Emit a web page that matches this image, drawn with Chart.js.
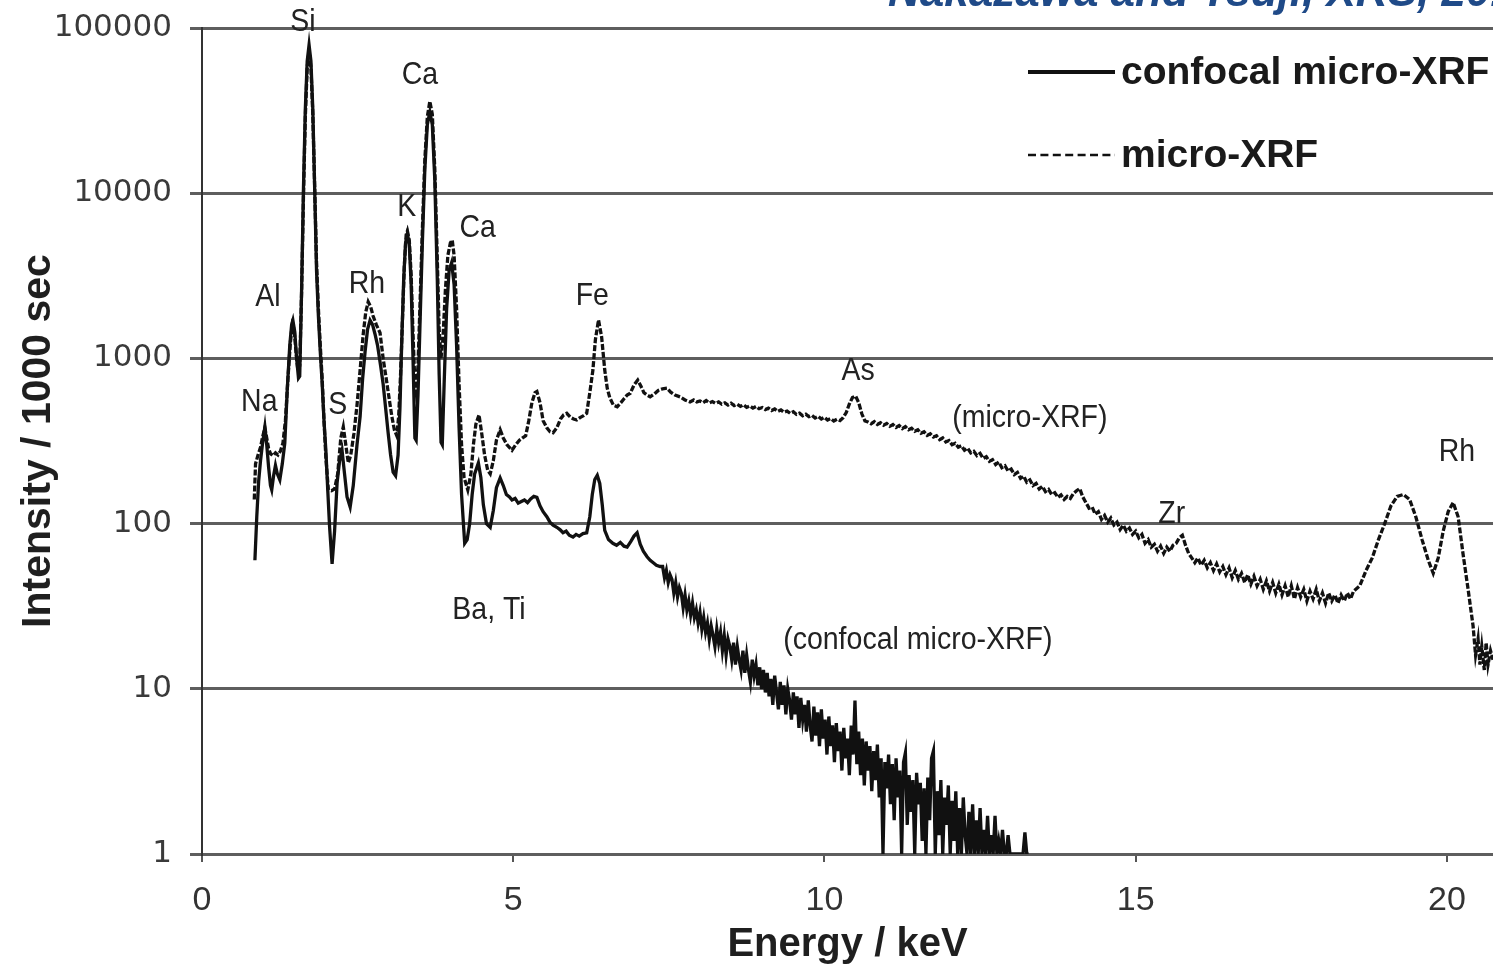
<!DOCTYPE html>
<html>
<head>
<meta charset="utf-8">
<title>confocal micro-XRF vs micro-XRF</title>
<script src="https://cdn.jsdelivr.net/npm/chart.js"></script>
<style>
  html, body { margin: 0; padding: 0; background: #fff; }
  canvas { display: block; }
</style>
</head>
<body>
<canvas id="spectrum" width="1493" height="967"></canvas>
<script>
// spectra as [energy keV, intensity counts / 1000 sec]
const confocalPoints = [
  [0.85, 60], [0.88, 110], [0.91, 180], [0.94, 240], [0.97, 300], [1.01, 385], [1.04, 300], [1.07, 220], [1.10, 170], [1.12, 160],
  [1.15, 195], [1.18, 225], [1.21, 200], [1.25, 184], [1.29, 230], [1.33, 307], [1.37, 650], [1.41, 1200], [1.44, 1600], [1.46, 1700],
  [1.49, 1450], [1.52, 1000], [1.55, 760], [1.57, 780], [1.60, 2600], [1.63, 10700], [1.66, 32400], [1.69, 63000], [1.72, 79000], [1.75, 63000],
  [1.78, 32400], [1.81, 10700], [1.84, 3400], [1.87, 1800], [1.90, 1100], [1.93, 710], [1.96, 420], [1.99, 277], [2.02, 160], [2.05, 95],
  [2.09, 57], [2.13, 90], [2.17, 176], [2.21, 240], [2.25, 277], [2.29, 200], [2.33, 145], [2.38, 126], [2.43, 170], [2.49, 300],
  [2.54, 445], [2.58, 750], [2.62, 1100], [2.66, 1500], [2.70, 1700], [2.74, 1600], [2.78, 1400], [2.82, 1200], [2.87, 900], [2.91, 700],
  [2.95, 500], [2.99, 355], [3.03, 260], [3.07, 205], [3.11, 195], [3.15, 260], [3.18, 500], [3.21, 1300], [3.24, 3000], [3.27, 5000],
  [3.30, 5700], [3.33, 4900], [3.36, 2800], [3.39, 1000], [3.42, 330], [3.44, 320], [3.47, 600], [3.50, 1500], [3.54, 5000], [3.58, 14000],
  [3.62, 26000], [3.66, 31000], [3.70, 26000], [3.74, 12000], [3.78, 3000], [3.81, 800], [3.84, 310], [3.86, 300], [3.89, 700], [3.93, 2000],
  [3.97, 3400], [4.01, 3800], [4.05, 2800], [4.09, 1200], [4.13, 380], [4.17, 150], [4.22, 76], [4.26, 80], [4.30, 100], [4.34, 150],
  [4.38, 200], [4.44, 233], [4.48, 190], [4.52, 130], [4.57, 100], [4.63, 95], [4.68, 120], [4.73, 165], [4.79, 189], [4.84, 170],
  [4.89, 150], [4.94, 145], [4.98, 139], [5.03, 142], [5.08, 133], [5.13, 136], [5.18, 139], [5.23, 134], [5.28, 141], [5.33, 146],
  [5.38, 144], [5.43, 128], [5.48, 118], [5.54, 110], [5.59, 102], [5.64, 98], [5.70, 95], [5.75, 92], [5.80, 88], [5.85, 90],
  [5.90, 85], [5.96, 83], [6.01, 86], [6.06, 84], [6.12, 87], [6.18, 88], [6.23, 110], [6.27, 150], [6.31, 185], [6.35, 196],
  [6.39, 175], [6.43, 130], [6.47, 91], [6.53, 80], [6.60, 76], [6.66, 74], [6.72, 77], [6.78, 73], [6.83, 72], [6.89, 78],
  [6.94, 84], [6.99, 88], [7.04, 75], [7.09, 68], [7.15, 63], [7.20, 60], [7.25, 58], [7.30, 56], [7.36, 55],
  // noisy high-energy tail
  [7.40, 55], [7.43, 47], [7.46, 52], [7.49, 44], [7.52, 49], [7.55, 46], [7.58, 38], [7.61, 44], [7.64, 36], [7.67, 41],
  [7.70, 38], [7.73, 31], [7.76, 37], [7.79, 30], [7.82, 34], [7.85, 28], [7.88, 33], [7.91, 27], [7.94, 30], [7.97, 25],
  [8.00, 29], [8.03, 23], [8.06, 27], [8.09, 22], [8.12, 25], [8.15, 20], [8.18, 24], [8.21, 21], [8.24, 18], [8.27, 23],
  [8.30, 19], [8.33, 22], [8.36, 17], [8.39, 21], [8.42, 16], [8.45, 20], [8.48, 18], [8.51, 15], [8.54, 19], [8.57, 14],
  [8.60, 18], [8.63, 15], [8.66, 13], [8.69, 17], [8.72, 12.5], [8.75, 16], [8.78, 13], [8.81, 11], [8.84, 15], [8.87, 12],
  [8.90, 14], [8.93, 10.5], [8.96, 13.5], [8.99, 10], [9.02, 13], [9.05, 9.5], [9.08, 12.5], [9.11, 9], [9.14, 11.5], [9.17, 8],
  [9.20, 12], [9.23, 9.5], [9.26, 7.5], [9.29, 11], [9.32, 8], [9.35, 10.5], [9.38, 7], [9.41, 10], [9.44, 8.5], [9.47, 6.5],
  [9.50, 9.5], [9.53, 7], [9.56, 9], [9.59, 5.8], [9.62, 8.8], [9.65, 6.5], [9.68, 8], [9.71, 5.5], [9.74, 8.5], [9.77, 6],
  [9.80, 4.8], [9.83, 7.8], [9.86, 5.2], [9.89, 7.2], [9.92, 4.5], [9.95, 7.5], [9.98, 5], [10.01, 6.5], [10.04, 4], [10.07, 6.8],
  [10.10, 4.5], [10.13, 6], [10.16, 3.6], [10.19, 6.2], [10.22, 4.2], [10.25, 5.5], [10.28, 3.2], [10.31, 5.8], [10.34, 3.8], [10.37, 5],
  [10.40, 3], [10.43, 6], [10.46, 4], [10.49, 8.5], [10.52, 3.5], [10.55, 5.5], [10.58, 3], [10.61, 5], [10.64, 2.6], [10.67, 4.8],
  [10.70, 3.2], [10.73, 4.5], [10.76, 2.4], [10.79, 4.2], [10.82, 2.8], [10.85, 4.6], [10.88, 2.2], [10.91, 3.8], [10.94, 1], [10.97, 3.6],
  [11.00, 2.5], [11.03, 4], [11.06, 2], [11.09, 3.5], [11.12, 1.6], [11.15, 3.8], [11.18, 2.2], [11.21, 3.2], [11.24, 1], [11.27, 3.6],
  [11.30, 4.1], [11.33, 1.5], [11.36, 3], [11.39, 1.8], [11.42, 2.8], [11.45, 1], [11.48, 3.1], [11.51, 2], [11.54, 2.7], [11.57, 1.2],
  [11.60, 2.5], [11.63, 1], [11.66, 2.9], [11.69, 1.6], [11.72, 3.8], [11.75, 4.2], [11.78, 1], [11.81, 2.4], [11.84, 1.3], [11.87, 2.8],
  [11.90, 1], [11.93, 2.2], [11.96, 1.5], [11.99, 2.6], [12.02, 1], [12.05, 2.1], [12.08, 1.2], [12.11, 2.4], [12.14, 1], [12.17, 1.9],
  [12.20, 1], [12.23, 2.2], [12.26, 1.3], [12.29, 1], [12.32, 1.8], [12.35, 1], [12.38, 2], [12.41, 1], [12.44, 1.6], [12.47, 1],
  [12.50, 1.9], [12.53, 1], [12.56, 1.4], [12.59, 1], [12.62, 1.7], [12.65, 1], [12.68, 1.3], [12.71, 1], [12.74, 1.7], [12.77, 1],
  [12.80, 1.2], [12.83, 1], [12.86, 1.4], [12.89, 1], [12.92, 1], [12.95, 1.3], [12.98, 1], [13.01, 1], [13.04, 1], [13.07, 1],
  [13.10, 1], [13.13, 1], [13.16, 1], [13.19, 1], [13.22, 1.35], [13.25, 1], [13.28, 1]
];

const microPoints = [
  [0.84, 140], [0.86, 230], [0.90, 260], [0.94, 290], [0.97, 330], [1.01, 380], [1.04, 330], [1.07, 285], [1.10, 265], [1.14, 258],
  [1.18, 268], [1.22, 260], [1.26, 275], [1.30, 307], [1.34, 420], [1.38, 750], [1.42, 1250], [1.45, 1600], [1.48, 1500], [1.51, 1100],
  [1.54, 850], [1.57, 900], [1.60, 2500], [1.63, 9500], [1.66, 29000], [1.69, 58000], [1.72, 72000], [1.75, 58000], [1.78, 30000], [1.81, 11000],
  [1.84, 3800], [1.87, 2000], [1.90, 1200], [1.93, 760], [1.96, 420], [1.99, 250], [2.03, 160], [2.08, 158], [2.13, 162], [2.18, 200],
  [2.23, 330], [2.27, 385], [2.31, 300], [2.35, 233], [2.39, 260], [2.44, 350], [2.49, 520], [2.54, 850], [2.59, 1400], [2.63, 1900],
  [2.67, 2200], [2.71, 2050], [2.75, 1800], [2.80, 1600], [2.86, 1430], [2.91, 1000], [2.97, 710], [3.01, 560], [3.05, 445], [3.09, 370],
  [3.13, 340], [3.16, 450], [3.19, 800], [3.22, 1700], [3.25, 3600], [3.28, 5600], [3.30, 5900], [3.33, 5200], [3.36, 3200], [3.39, 1400],
  [3.42, 700], [3.44, 620], [3.47, 900], [3.50, 2000], [3.54, 6000], [3.58, 16000], [3.62, 29000], [3.66, 36000], [3.70, 30000], [3.74, 14000],
  [3.78, 4000], [3.81, 1500], [3.84, 1000], [3.87, 1300], [3.91, 2600], [3.95, 4200], [3.99, 5000], [4.02, 5200], [4.05, 4200], [4.09, 2000],
  [4.13, 700], [4.17, 300], [4.21, 190], [4.27, 160], [4.32, 200], [4.36, 300], [4.40, 400], [4.45, 455], [4.49, 360], [4.54, 260],
  [4.59, 210], [4.63, 200], [4.68, 240], [4.73, 320], [4.79, 370], [4.84, 330], [4.90, 300], [4.98, 278], [5.04, 300], [5.10, 320],
  [5.15, 330], [5.20, 340], [5.25, 420], [5.30, 540], [5.35, 620], [5.38, 630], [5.43, 540], [5.48, 420], [5.54, 380], [5.59, 360],
  [5.64, 355], [5.70, 380], [5.76, 430], [5.81, 455], [5.86, 465], [5.92, 440], [5.97, 430], [6.02, 424], [6.08, 440], [6.13, 450],
  [6.18, 465], [6.23, 620], [6.28, 850], [6.32, 1300], [6.37, 1710], [6.42, 1350], [6.47, 850], [6.51, 660], [6.55, 580], [6.61, 520],
  [6.67, 510], [6.73, 540], [6.78, 570], [6.83, 600], [6.88, 615], [6.94, 690], [7.00, 740], [7.05, 680], [7.10, 620], [7.15, 600],
  [7.20, 585], [7.27, 610], [7.33, 640], [7.40, 655], [7.47, 660], [7.53, 625], [7.60, 600], [7.68, 585], [7.76, 560], [7.84, 545],
  [7.90, 560], [7.95, 545], [8.00, 552], [8.05, 540], [8.10, 556], [8.15, 538], [8.20, 548], [8.25, 534], [8.30, 545], [8.35, 528],
  [8.40, 538], [8.45, 522], [8.50, 536], [8.55, 518], [8.60, 527], [8.65, 512], [8.70, 524], [8.75, 505], [8.80, 515], [8.85, 500],
  [8.90, 512], [8.95, 496], [9.00, 504], [9.05, 490], [9.10, 500], [9.15, 484], [9.20, 494], [9.25, 478], [9.30, 488], [9.35, 472],
  [9.40, 480], [9.45, 465], [9.50, 475], [9.55, 458], [9.60, 466], [9.65, 450], [9.70, 460], [9.75, 444], [9.80, 452], [9.85, 436],
  [9.90, 446], [9.95, 430], [10.00, 440], [10.05, 424], [10.10, 432], [10.15, 418], [10.20, 428], [10.25, 420], [10.30, 438], [10.35, 470],
  [10.40, 530], [10.45, 580], [10.50, 592], [10.55, 540], [10.60, 462], [10.65, 418], [10.70, 412], [10.75, 402], [10.80, 414], [10.85, 398],
  [10.90, 408], [10.95, 394], [11.00, 404], [11.05, 388], [11.10, 398], [11.15, 382], [11.20, 392], [11.25, 376], [11.30, 386], [11.35, 370],
  [11.40, 378], [11.45, 362], [11.50, 370], [11.55, 352], [11.60, 360], [11.65, 342], [11.70, 350], [11.75, 334], [11.80, 340], [11.85, 322],
  [11.90, 330], [11.95, 312], [12.00, 318], [12.05, 300], [12.10, 306], [12.15, 290], [12.20, 296], [12.25, 278], [12.30, 286], [12.35, 268],
  [12.40, 274], [12.45, 258], [12.50, 266], [12.55, 248], [12.60, 254], [12.65, 238], [12.70, 244], [12.75, 228], [12.80, 236], [12.85, 218],
  [12.90, 224], [12.95, 208], [13.00, 214], [13.05, 198], [13.10, 204], [13.15, 188], [13.20, 194], [13.25, 178], [13.30, 184], [13.35, 170],
  [13.40, 175], [13.45, 162], [13.50, 168], [13.55, 156], [13.60, 161], [13.65, 150], [13.70, 154], [13.75, 144], [13.80, 149], [13.85, 140],
  [13.90, 146], [13.95, 142], [14.00, 152], [14.05, 158], [14.10, 163], [14.15, 145], [14.20, 134], [14.25, 124], [14.30, 126], [14.35, 114],
  [14.40, 118], [14.45, 106], [14.50, 112], [14.55, 102], [14.60, 108], [14.65, 98], [14.70, 102], [14.75, 92], [14.80, 98], [14.85, 90],
  [14.90, 94], [14.95, 86], [15.00, 90], [15.05, 82], [15.10, 86], [15.15, 76], [15.20, 80], [15.25, 72], [15.30, 75], [15.35, 68],
  [15.40, 73], [15.45, 66], [15.50, 72], [15.55, 68], [15.60, 74], [15.65, 76], [15.70, 82], [15.75, 85], [15.80, 74], [15.85, 66],
  [15.90, 62], [15.95, 58], [16.00, 62], [16.05, 56], [16.10, 60], [16.15, 54], [16.20, 58], [16.25, 52], [16.30, 57], [16.35, 51],
  [16.40, 55], [16.45, 49], [16.50, 54], [16.55, 47], [16.60, 52], [16.65, 46], [16.70, 50], [16.75, 44], [16.80, 49], [16.85, 43],
  [16.90, 48], [16.95, 42], [17.00, 46], [17.05, 40], [17.10, 45], [17.15, 39], [17.20, 44], [17.25, 38], [17.30, 43], [17.35, 37],
  [17.40, 42], [17.45, 36], [17.50, 42], [17.55, 35], [17.60, 41], [17.65, 36], [17.70, 40], [17.75, 34], [17.80, 39], [17.85, 35],
  [17.90, 40], [17.95, 34], [18.00, 38], [18.05, 33], [18.10, 38], [18.15, 34], [18.20, 37], [18.25, 33], [18.30, 37], [18.35, 34],
  [18.40, 38], [18.45, 35], [18.50, 39], [18.60, 42], [18.70, 52], [18.80, 62], [18.90, 80], [19.00, 100], [19.10, 128], [19.20, 146],
  [19.30, 150], [19.40, 140], [19.50, 110], [19.60, 80], [19.70, 60], [19.78, 50], [19.86, 62], [19.94, 90], [20.02, 118], [20.10, 134],
  [20.18, 110], [20.26, 65], [20.34, 40], [20.42, 24], [20.46, 16], [20.50, 20], [20.53, 14], [20.56, 18], [20.60, 13], [20.63, 19],
  [20.66, 14], [20.70, 17], [20.74, 15]
];

// element and trace annotations (energy, intensity)
const peakNames     = ['Si', 'Ca', 'K', 'Ca', 'Al', 'Rh', 'Fe', 'Na', 'S', 'As', 'Rh', 'Zr', 'Ba, Ti'];
const peakEnergy    = [1.62, 3.50, 3.29, 4.43, 1.06, 2.65, 6.27, 0.92, 2.18, 10.54, 20.16, 15.58, 4.61];
const peakIntensity = [108000, 52000, 8250, 6150, 2350, 2820, 2390, 545, 522, 839, 271, 114, 30];
const traceNames     = ['(micro-XRF)', '(confocal micro-XRF)'];
const traceEnergy    = [13.30, 11.50];
const traceIntensity = [436, 19.7];

const xTicks = [0, 5, 10, 15, 20];
const yTicks = [1, 10, 100, 1000, 10000, 100000];

const SANS = '"Liberation Sans", Arial, sans-serif';

function toPoints(pairs) {
  return pairs.map(p => ({ x: p[0], y: p[1] }));
}

// text squeezed horizontally by sx
function squeezedText(ctx, text, px, py, font, sx, align) {
  ctx.save();
  ctx.translate(px, py);
  ctx.scale(sx, 1);
  ctx.font = font;
  ctx.textAlign = align;
  ctx.fillText(text, 0, 0);
  ctx.restore();
}

// labels, legend and the citation line are drawn on top of the plot
const overlay = {
  id: 'overlay',
  afterDraw(chart) {
    const ctx = chart.ctx;
    const x = chart.scales.x, y = chart.scales.y;
    ctx.save();
    ctx.fillStyle = '#222';
    ctx.textBaseline = 'middle';

    peakNames.forEach((name, i) => {
      squeezedText(ctx, name, x.getPixelForValue(peakEnergy[i]), y.getPixelForValue(peakIntensity[i]),
        '32px ' + SANS, 0.89, 'center');
    });
    traceNames.forEach((name, i) => {
      squeezedText(ctx, name, x.getPixelForValue(traceEnergy[i]), y.getPixelForValue(traceIntensity[i]),
        '31px ' + SANS, 0.92, 'center');
    });

    // legend
    const rows = [72, 155];
    chart.data.datasets.forEach((ds, i) => {
      ctx.beginPath();
      ctx.strokeStyle = ds.borderColor;
      ctx.lineWidth = i === 0 ? 4 : 2.5;
      ctx.setLineDash(i === 0 ? [] : [8, 4.4]);
      ctx.moveTo(1028, rows[i]);
      ctx.lineTo(1115, rows[i]);
      ctx.stroke();
      ctx.setLineDash([]);
      ctx.fillStyle = '#1a1a1a';
      squeezedText(ctx, ds.label, 1121, rows[i] + 1, 'bold 39px ' + SANS, 1, 'left');
    });

    // citation, cut by the top edge
    ctx.fillStyle = '#1f4a88';
    ctx.textBaseline = 'alphabetic';
    squeezedText(ctx, 'Nakazawa and Tsuji, XRS, 2013', 888, 6, 'italic bold 44px ' + SANS, 1, 'left');
    ctx.restore();
  }
};

new Chart(document.getElementById('spectrum'), {
  type: 'line',
  data: {
    datasets: [
      {
        label: 'confocal micro-XRF',
        data: toPoints(confocalPoints),
        borderColor: '#111',
        borderWidth: 3.3,
        pointRadius: 0,
        tension: 0
      },
      {
        label: 'micro-XRF',
        data: toPoints(microPoints),
        borderColor: '#111',
        borderWidth: 3.3,
        borderDash: [6, 2],
        pointRadius: 0,
        tension: 0
      }
    ]
  },
  options: {
    responsive: false,
    animation: false,
    events: [],
    layout: { padding: { top: 28, right: 0, bottom: 0, left: 0 } },
    plugins: { legend: { display: false }, tooltip: { enabled: false } },
    scales: {
      x: {
        type: 'linear',
        min: 0,
        max: 20.74,
        afterBuildTicks: s => { s.ticks = xTicks.map(v => ({ value: v })); },
        afterFit: s => { s.height = 113; s.paddingLeft = 0; s.paddingRight = 0; },
        grid: { drawOnChartArea: false, drawTicks: true, tickLength: 8, color: '#555', lineWidth: 2 },
        border: { display: false },
        ticks: { autoSkip: false, maxRotation: 0, padding: 18, color: '#333', font: { family: SANS, size: 34 } },
        title: {
          display: true,
          text: 'Energy / keV',
          color: '#1f1f1f',
          padding: { top: 0, bottom: 2 },
          font: { family: SANS, size: 40, weight: 'bold', lineHeight: 1 }
        }
      },
      y: {
        type: 'logarithmic',
        min: 1,
        max: 100000,
        afterBuildTicks: s => { s.ticks = yTicks.map(v => ({ value: v })); },
        afterFit: s => { s.width = 202; s.paddingTop = 0; s.paddingBottom = 0; },
        grid: { color: '#5e5e5e', lineWidth: 3, tickLength: 12 },
        border: { display: true, color: '#333', width: 2 },
        ticks: {
          autoSkip: false,
          padding: 18,
          color: '#3a3a3a',
          font: { family: 'DejaVu Sans', size: 31 },
          callback: v => String(v)
        },
        title: {
          display: true,
          text: 'Intensity / 1000 sec',
          color: '#1f1f1f',
          padding: { top: 14, bottom: 0 },
          font: { family: SANS, size: 41, weight: 'bold', lineHeight: 1.2 }
        }
      }
    }
  },
  plugins: [overlay]
});
</script>
</body>
</html>
